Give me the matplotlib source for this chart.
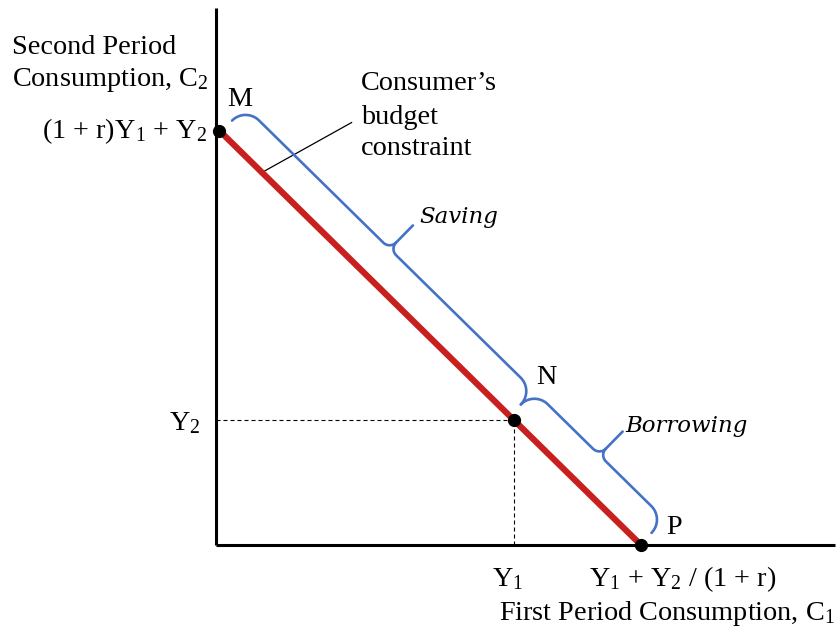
import numpy as np
import matplotlib
matplotlib.use("Agg")
import matplotlib.pyplot as plt

plt.rcParams['mathtext.fontset'] = 'custom'
plt.rcParams['mathtext.rm'] = 'Liberation Serif'
plt.rcParams['mathtext.it'] = 'Liberation Serif:italic'
plt.rcParams['mathtext.default'] = 'rm'

# ---- data (schematic units) ----
point_names = ['M', 'N', 'P']
point_c1 = [0.08, 7.0, 10.0]       # first-period consumption
point_c2 = [9.75, 2.93, 0.0]       # second-period consumption
budget_c1 = [0.08, 10.0]
budget_c2 = [9.75, 0.0]
leader_c1 = [1.035, 3.19]
leader_c2 = [8.74, 9.94]
brace_labels = ['Saving', 'Borrowing']

SCALE = 42.5           # pixels per unit
OX, OY = 216, 545      # origin pixel

def px(x, y):
    return ((x - OX) / SCALE, (OY - y) / SCALE)

fig = plt.figure(figsize=(8.4, 6.35), dpi=100)
ax = fig.add_axes([0, 0, 1, 1])
x0, y1 = px(0, 0)
x1, y0 = px(840, 635)
ax.set_xlim(x0, x1)
ax.set_ylim(y0, y1)
ax.axis('off')

serif = 'Liberation Serif'
FS = 20.3
BLUE = '#4472C4'

# axes
ax.plot([0, 0], [0, px(0, 8)[1]], color='black', lw=2.2, solid_capstyle='butt', zorder=3)
ax.plot([0, px(835, 0)[0]], [0, 0], color='black', lw=2.2, solid_capstyle='butt', zorder=3)

# dashed guides to N
nx, ny = point_c1[1], point_c2[1]
ax.plot([0, nx], [ny, ny], color='black', lw=0.8, ls=(0, (3.6, 2.7)), zorder=2)
ax.plot([nx, nx], [0, ny], color='black', lw=0.8, ls=(0, (3.6, 2.7)), zorder=2)

# budget line
ax.plot(budget_c1, budget_c2, color='#C8201E', lw=4.5, solid_capstyle='butt', zorder=4)
ax.plot(point_c1, point_c2, 'o', color='black', ms=8.5, zorder=5)

# leader line
ax.plot(leader_c1, leader_c2, color='black', lw=0.9, zorder=3)

# braces
M = np.array([budget_c1[0], budget_c2[0]])
P = np.array([budget_c1[1], budget_c2[1]])
u = (P - M) / np.linalg.norm(P - M)
nrm = np.array([-u[1], u[0]])
if nrm[0] < 0:
    nrm = -nrm
Nv = np.array([nx, ny])
sN = np.dot(Nv - M, u) - 6 / SCALE
sP = np.linalg.norm(P - M) - 1 / SCALE
s0 = 2 / SCALE

t_e, t_s, R2, t_tip = 16 / SCALE, 35 / SCALE, 9 / SCALE, 68 / SCALE
R1 = t_s - t_e

def brace(sa, sb):
    sm = 0.5 * (sa + sb)
    pts = []
    th = np.linspace(np.pi, np.pi / 2, 20)
    pts += list(zip(sa + R1 + R1 * np.cos(th), t_e + R1 * np.sin(th)))
    th = np.linspace(-np.pi / 2, 0, 15)
    pts += list(zip(sm - R2 + R2 * np.cos(th), t_s + R2 + R2 * np.sin(th)))
    th = np.linspace(np.pi, 3 * np.pi / 2, 15)
    pts += list(zip(sm + R2 + R2 * np.cos(th), t_s + R2 + R2 * np.sin(th)))
    th = np.linspace(np.pi / 2, 0, 20)
    pts += list(zip(sb - R1 + R1 * np.cos(th), t_e + R1 * np.sin(th)))
    pts = np.array(pts)
    xy = M + np.outer(pts[:, 0], u) + np.outer(pts[:, 1], nrm)
    ax.plot(xy[:, 0], xy[:, 1], color=BLUE, lw=1.9, zorder=3,
            solid_joinstyle='round', solid_capstyle='round')
    stem = np.array([[sm, t_s + R2], [sm, t_tip]])
    xy = M + np.outer(stem[:, 0], u) + np.outer(stem[:, 1], nrm)
    ax.plot(xy[:, 0], xy[:, 1], color=BLUE, lw=1.9, zorder=3,
            solid_capstyle='round')

brace(s0, sN)
brace(sN, sP)

# texts
def T(x, y, s, ha='left', va='center', **kw):
    kw.setdefault('family', serif)
    kw.setdefault('fontsize', FS)
    ax.text(*px(x, y), s, ha=ha, va=va, **kw)

T(12, 47, 'Second Period')
T(12, 80, r'Consumption, C$_2$')
T(207, 131, r'(1 + r)Y$_1$ + Y$_2$', ha='right')
T(240, 100, point_names[0], ha='center')
T(546, 378, point_names[1], ha='center')
T(674, 527, point_names[2], ha='center')
T(361, 84, 'Consumer\u2019s')
T(361, 117, 'budget')
T(361, 148, 'constraint')
T(419, 217, brace_labels[0], family='DejaVu Serif', style='italic', fontsize=16.5)
T(625, 426, brace_labels[1], family='DejaVu Serif', style='italic', fontsize=16.5)
T(200, 423, r'Y$_2$', ha='right')
T(508, 579, r'Y$_1$', ha='center')
T(683, 579, r'Y$_1$ + Y$_2$ / (1 + r)', ha='center')
T(835, 614, r'First Period Consumption, C$_1$', ha='right')

fig.savefig('out.png', dpi=100)
